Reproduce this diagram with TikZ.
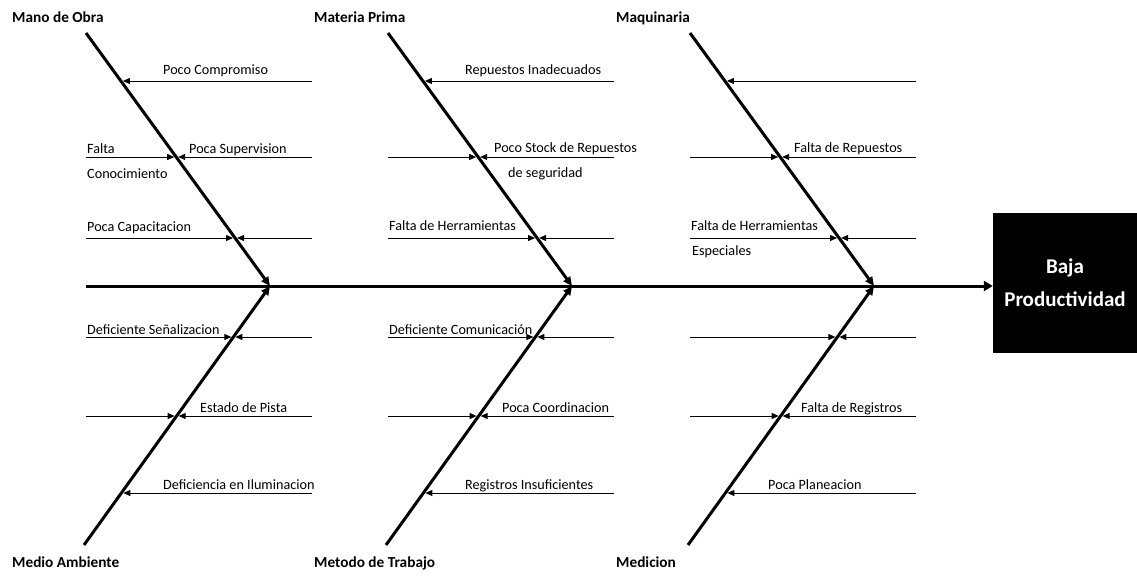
\documentclass[tikz,border=0pt]{standalone}
\usepackage{fontspec}
\setmainfont{Carlito}
\usetikzlibrary{arrows.meta,positioning,calc}

\tikzset{
  bone/.style={line width=3pt,-{Triangle[length=9pt,width=8pt]}},
  cause/.style={line width=.9pt,-{Triangle[length=7pt,width=6pt]},shorten >=2pt},
  cat/.style={font=\fontsize{15.3}{18}\selectfont\bfseries,anchor=base west,inner sep=0pt},
  lbl/.style={font=\fontsize{14.2}{17}\selectfont,anchor=base west,inner sep=0pt},
}

\begin{document}
\begin{tikzpicture}[x=1pt,y=-1pt]
\useasboundingbox (0,0) rectangle (1137,577);
% effect and spine
\node[fill=black,text=white,minimum width=144pt,minimum height=140pt,inner sep=0pt,align=center,
  font=\fontsize{21}{33}\selectfont\bfseries] (effect) at (1065,283) {Baja\\Productividad};
\coordinate (tail) at (86,286);
\draw[bone,-{Triangle[length=9pt,width=10pt]}] (tail) -- (tail -| effect.west);
% bones and causes
\foreach \dx/\up/\dn [count=\k] in {0/Mano de Obra/Medio Ambiente,302/Materia Prima/Metodo de Trabajo,604/Maquinaria/Medicion}{
  \coordinate (top\k) at (86+\dx,33);
  \coordinate (bot\k) at (84+\dx,545);
  \coordinate (hub\k) at (270+\dx,286);
  \draw[bone] (top\k) -- (hub\k);
  \draw[bone] (bot\k) -- (hub\k);
  \node[cat] (up\k) at (12+\dx,23) {\up};
  \node[cat] (dn\k) at (12+\dx,567) {\dn};
  % upper side
  \foreach \y/\r in {81/a,157/b,238/c}{
    \coordinate (on\k\r) at ({86+\dx+(\y-33)/253*184},\y);
    \coordinate (rt\k\r) at (312+\dx,\y);
    \draw[cause] (rt\k\r) -- (on\k\r);
  }
  \foreach \y/\r in {157/b,238/c}{
    \coordinate (lf\k\r) at (86+\dx,\y);
    \draw[cause] (lf\k\r) -- (on\k\r);
  }
  % lower side
  \foreach \y/\r in {337/d,416/e,493/f}{
    \coordinate (on\k\r) at ({84+\dx+(545-\y)/259*186},\y);
    \coordinate (rt\k\r) at (312+\dx,\y);
    \draw[cause] (rt\k\r) -- (on\k\r);
  }
  \foreach \y/\r in {337/d,416/e}{
    \coordinate (lf\k\r) at (86+\dx,\y);
    \draw[cause] (lf\k\r) -- (on\k\r);
  }
}
% Mano de Obra
\node[lbl] (compromiso) at (163,75) {Poco Compromiso};
\node[lbl] (falta) at (87,154) {Falta};
\node[lbl] (conoc) at (87,179) {Conocimiento};
\node[lbl] (superv) at (189,154) {Poca Supervision};
\node[lbl] (capac) at (87,232) {Poca Capacitacion};
% Materia Prima
\node[lbl] (inadec) at (465,75) {Repuestos Inadecuados};
\node[lbl] (stock) at (494,153) {Poco Stock de Repuestos};
\node[lbl] (segur) at (508,178) {de seguridad};
\node[lbl] (herr) at (389,231) {Falta de Herramientas};
% Maquinaria
\node[lbl] (repuestos) at (794,153) {Falta de Repuestos};
\node[lbl] (herresp) at (691,231) {Falta de Herramientas};
\node[lbl] (espec) at (692,255) {Especiales};
% Medio Ambiente
\node[lbl] (senal) at (87,334) {Deficiente Señalizacion};
\node[lbl] (pista) at (200,412) {Estado de Pista};
\node[lbl] (ilum) at (163,489) {Deficiencia en Iluminacion};
% Metodo de Trabajo
\node[lbl] (comun) at (389,334) {Deficiente Comunicación};
\node[lbl] (coord) at (502,412) {Poca Coordinacion};
\node[lbl] (regins) at (465,489) {Registros Insuficientes};
% Medicion
\node[lbl] (registros) at (801,412) {Falta de Registros};
\node[lbl] (planea) at (768,489) {Poca Planeacion};
\end{tikzpicture}
\end{document}
